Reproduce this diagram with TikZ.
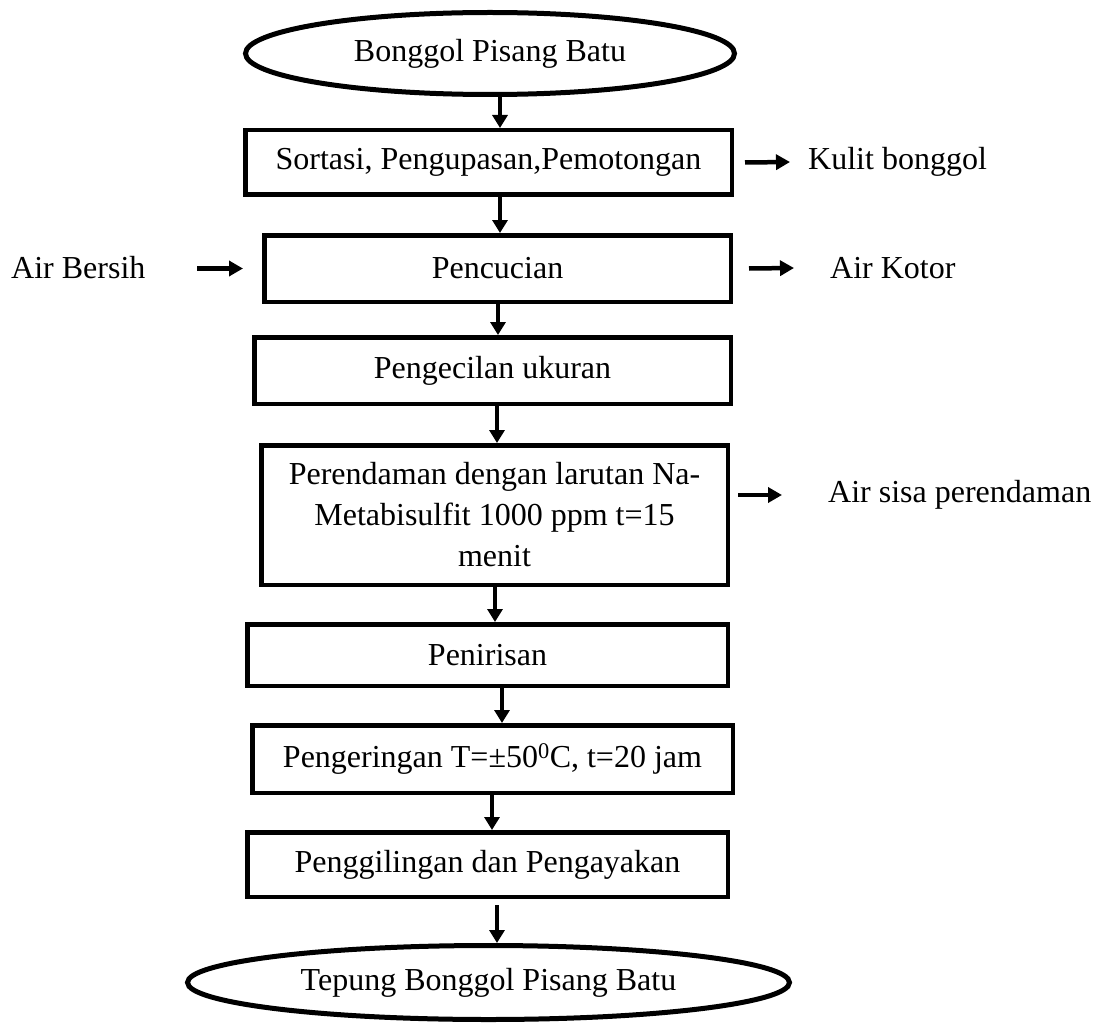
\documentclass[tikz,border=0pt]{standalone}
\usepackage{fontspec}
\setmainfont{Liberation Serif}
\usetikzlibrary{shapes.geometric,arrows.meta,calc}
\begin{document}
\begin{tikzpicture}[x=1pt,y=-1pt,
  txt/.style={font=\fontsize{32}{41}\selectfont},
  box/.style={txt,draw,line width=4.5pt,rectangle,inner sep=0pt,align=center},
  oval/.style={txt,draw,line width=5pt,ellipse,inner sep=0pt},
  lbl/.style={txt,inner sep=0pt,anchor=west},
  arr/.style={line width=4pt,-{Triangle[length=13pt,width=15pt]}},
  sidearr/.style={line width=4.5pt,-{Triangle[length=14pt,width=15pt]}}]
\useasboundingbox (0,0) rectangle (1105,1027);
\node[oval,minimum width=489pt,minimum height=82pt] (e1) at (490,53.5) {Bonggol Pisang Batu};
\node[box,minimum width=486.5pt,minimum height=64.5pt] (b1) at (488.5,162.5) {Sortasi, Pengupasan,Pemotongan};
\node[box,minimum width=466.5pt,minimum height=66.5pt] (b2) at (497.5,268.5) {Pencucian};
\node[box,minimum width=476.5pt,minimum height=66.5pt] (b3) at (492.5,370.5) {Pengecilan ukuran};
\node[box,minimum width=466.5pt,minimum height=139.5pt] (b4) at (494.5,515) {Perendaman dengan larutan Na-\\Metabisulfit 1000 ppm t=15\\menit};
\node[box,minimum width=480.5pt,minimum height=61.5pt] (b5) at (487.5,655) {Penirisan};
\node[box,minimum width=480.5pt,minimum height=67.5pt] (b6) at (492.5,759) {Pengeringan T=±50\textsuperscript{0}C, t=20 jam};
\node[box,minimum width=480.5pt,minimum height=64.5pt] (b7) at (487.5,864.5) {Penggilingan dan Pengayakan};
\node[oval,minimum width=602pt,minimum height=74pt] (e2) at (488.5,982.5) {Tepung Bonggol Pisang Batu};

\node[lbl] (kulit) at (808,162) {Kulit bonggol};
\node[lbl] (ab) at (11,268) {Air Bersih};
\node[lbl] (ak) at (830,268) {Air Kotor};
\node[lbl] (as) at (828,495) {Air sisa perendaman};

\coordinate (x1) at (500,0);
\coordinate (x2) at (500,0);
\coordinate (x3) at (498,0);
\coordinate (x4) at (497,0);
\coordinate (x5) at (495,0);
\coordinate (x6) at (502,0);
\coordinate (x7) at (492,0);
\coordinate (x8) at (497,0);

\draw[arr] (e1.south -| x1) -- (b1.north -| x1);
\draw[arr] (b1.south -| x2) -- (b2.north -| x2);
\draw[arr] (b2.south -| x3) -- (b3.north -| x3);
\draw[arr] (b3.south -| x4) -- (b4.north -| x4);
\draw[arr] (b4.south -| x5) -- (b5.north -| x5);
\draw[arr] (b5.south -| x6) -- (b6.north -| x6);
\draw[arr] (b6.south -| x7) -- (b7.north -| x7);
\draw[arr] ($(b7.south -| x8)+(0,6)$) -- (e2.north -| x8);

\draw[sidearr] ($(b1.east)+(11,0)$) -- ($(kulit.west)+(-18,0)$);
\draw[sidearr] ($(b2.west)+(-65,0)$) -- ($(b2.west)+(-19,0)$);
\draw[sidearr] ($(b2.east)+(16,0)$) -- ($(ak.west)+(-36,0)$);
\draw[sidearr] ($(b4.east |- as.west)+(8,0)$) -- ($(as.west)+(-46,0)$);
\end{tikzpicture}
\end{document}
